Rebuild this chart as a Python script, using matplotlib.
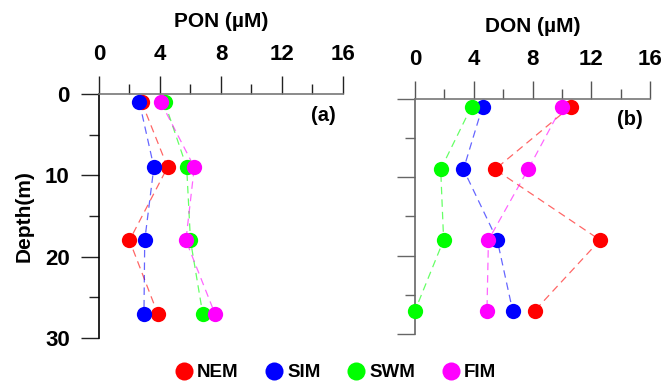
import matplotlib
matplotlib.use('Agg')
import matplotlib.pyplot as plt
from matplotlib.ticker import MultipleLocator
from matplotlib.lines import Line2D

plt.rcParams['font.family'] = ['Liberation Sans', 'DejaVu Sans']
plt.rcParams['font.weight'] = 'bold'

depth = [1, 9, 18, 27]
seasons = ['NEM', 'SIM', 'SWM', 'FIM']
colors = {'NEM': '#ff0000', 'SIM': '#0000ff', 'SWM': '#00ff00', 'FIM': '#ff00ff'}

# PON (uM) per season, at the four depths
pon = {'NEM': [2.8, 4.5, 2.0, 3.85],
       'SIM': [2.65, 3.6, 3.0, 2.95],
       'SWM': [4.3, 5.75, 6.0, 6.8],
       'FIM': [4.05, 6.25, 5.7, 7.6]}
# DON (uM)
don = {'NEM': [10.6, 5.45, 12.6, 8.15],
       'SIM': [4.6, 3.3, 5.6, 6.65],
       'SWM': [3.85, 1.75, 1.95, 0.0],
       'FIM': [10.0, 7.7, 5.0, 4.9]}

xticks = [0, 4, 8, 12, 16]
yticks = [0, 10, 20, 30]

fig = plt.figure(figsize=(6.66, 3.85), dpi=100)
ax1 = fig.add_axes([0.1486, 0.1221, 0.3664, 0.6338])
ax2 = fig.add_axes([0.6231, 0.1317, 0.3529, 0.612])


def style(ax, data, xlabel, tag, spine_col, show_y):
    for s in seasons:
        ax.plot(data[s], depth, color=colors[s], lw=0.9, alpha=0.6,
                dashes=(6, 4), zorder=2)
    for s in seasons:
        ax.plot(data[s], depth, 'o', color=colors[s], ms=11, mec='none', zorder=3,
                clip_on=False)
    ax.set_xlim(0, 16)
    ax.set_ylim(30, 0)
    ax.xaxis.tick_top()
    ax.xaxis.set_label_position('top')
    ax.set_xticks(xticks)
    ax.xaxis.set_minor_locator(MultipleLocator(2))
    ax.set_yticks(yticks)
    ax.yaxis.set_minor_locator(MultipleLocator(5))
    for sp in ['right', 'bottom']:
        ax.spines[sp].set_visible(False)
    ax.spines['top'].set_color('#777777')
    ax.spines['left'].set_color(spine_col)
    ax.spines['top'].set_linewidth(1.2)
    ax.spines['left'].set_linewidth(1.2)
    ax.tick_params(axis='both', which='major', direction='out', length=13,
                   width=1, labelsize=16, color='#222222')
    ax.tick_params(axis='both', which='minor', direction='out', length=7,
                   width=1, color='#222222')
    ax.tick_params(axis='x', which='major', pad=8)
    ax.tick_params(axis='y', which='major', pad=8)
    if not show_y:
        ax.tick_params(axis='y', which='both', labelleft=False, color='#666666')
        ax.tick_params(axis='x', which='both', color='#555555')
    ax.set_xlabel(xlabel, fontsize=15, fontweight='bold', labelpad=12)
    ax.text(0.97, 0.91, tag, transform=ax.transAxes, ha='right', va='center',
            fontsize=14.5, fontweight='bold')


style(ax1, pon, 'PON (\u00b5M)', '(a)', 'black', True)
style(ax2, don, 'DON (\u00b5M)', '(b)', '#666666', False)
ax1.set_ylabel('Depth(m)', fontsize=15, fontweight='bold', labelpad=8)

handles = [Line2D([], [], marker='o', ls='none', color=colors[s], ms=13, mec='none')
           for s in seasons]
fig.legend(handles, seasons, loc='center', bbox_to_anchor=(0.502, 0.032), ncol=4,
           frameon=False, handletextpad=0.1, columnspacing=1.3,
           handlelength=1.2, prop={'size': 13.5, 'weight': 'bold'})

fig.savefig('out.png', dpi=100)
